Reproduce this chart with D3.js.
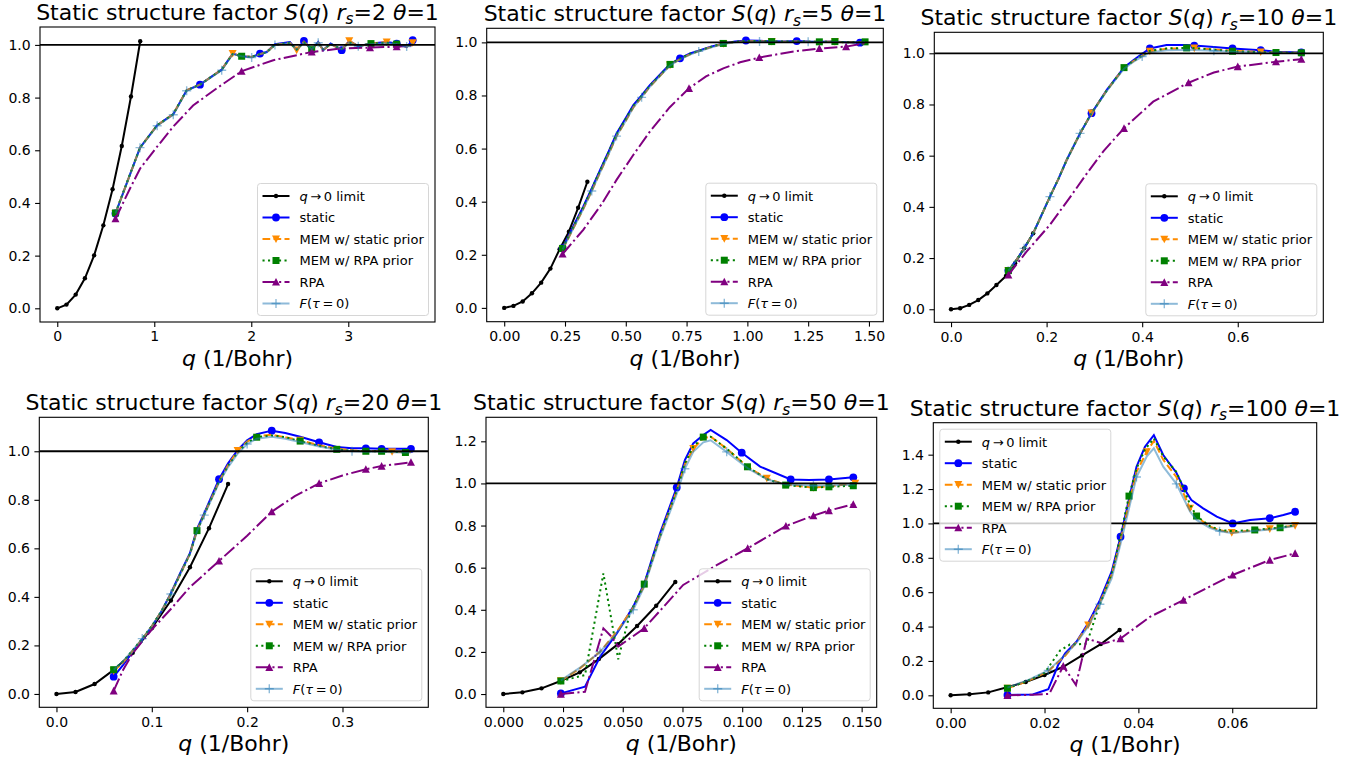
<!DOCTYPE html>
<html>
<head>
<meta charset="utf-8">
<script src="https://cdn.jsdelivr.net/npm/d3@7"></script>
<style>
body { margin: 0; background: #fff; }
svg { display: block; }
text { font-family: "DejaVu Sans", sans-serif; }
</style>
</head>
<body>
<svg width="1362" height="762"></svg>
<script>
// ---- data: [q, S(q)] ----

// r_s = 2
var rs2_limit = [[0,0],[0.095,0.014],[0.19,0.052],[0.285,0.114],[0.38,0.201],[0.475,0.315],[0.57,0.452],[0.665,0.616],[0.76,0.804],[0.855,1.014]];
var rs2_static = [[0.6,0.36],[0.853,0.61],[1.03,0.695],[1.196,0.737],[1.334,0.828],[1.471,0.849],[1.695,0.906],[1.808,0.967],[1.901,0.957],[2.004,0.954],[2.09,0.967],[2.159,0.973],[2.244,1.003],[2.399,1.011],[2.468,0.98],[2.543,1.015],[2.623,0.982],[2.69,1.011],[2.742,0.98],[2.818,1.005],[2.932,0.98],[3.01,1.015],[3.103,0.995],[3.234,1.005],[3.396,1.011],[3.499,1.005],[3.602,0.992],[3.664,1.018]];
var rs2_memS = [[0.6,0.36],[0.853,0.61],[1.03,0.695],[1.196,0.737],[1.334,0.828],[1.471,0.849],[1.695,0.906],[1.808,0.967],[1.901,0.957],[2.004,0.954],[2.09,0.965],[2.159,0.973],[2.244,1.0],[2.399,1.008],[2.468,0.98],[2.543,1.012],[2.623,0.982],[2.69,1.008],[2.742,0.98],[2.818,1.003],[2.932,0.982],[3.01,1.015],[3.103,0.995],[3.234,1.005],[3.396,1.011],[3.499,1.003],[3.602,0.993],[3.664,1.008]];
var rs2_memR = [[0.6,0.362],[0.853,0.61],[1.03,0.695],[1.196,0.737],[1.334,0.828],[1.471,0.849],[1.695,0.906],[1.808,0.965],[1.901,0.957],[2.004,0.954],[2.09,0.965],[2.159,0.972],[2.244,1.0],[2.399,1.008],[2.468,0.982],[2.543,1.01],[2.623,0.982],[2.69,1.008],[2.742,0.982],[2.818,1.003],[2.932,0.984],[3.01,1.01],[3.103,0.995],[3.234,1.005],[3.396,1.008],[3.499,1.003],[3.602,0.994],[3.664,1.005]];
var rs2_rpa = [[0.6,0.34],[0.75,0.455],[0.853,0.53],[1.0,0.6],[1.196,0.69],[1.4,0.77],[1.643,0.835],[1.9,0.9],[2.227,0.942],[2.623,0.973],[2.914,0.986],[3.224,0.99],[3.499,0.993],[3.664,0.998]];
var rs2_F = [[0.6,0.36],[0.853,0.61],[1.03,0.693],[1.196,0.735],[1.334,0.826],[1.471,0.849],[1.695,0.904],[1.808,0.965],[1.901,0.957],[2.004,0.952],[2.09,0.965],[2.159,0.972],[2.244,1.0],[2.399,1.008],[2.468,0.982],[2.543,1.01],[2.623,0.984],[2.69,1.008],[2.742,0.982],[2.818,1.003],[2.932,0.984],[3.01,1.01],[3.103,0.995],[3.234,1.003],[3.396,1.008],[3.499,1.003],[3.602,0.994],[3.664,1.005]];

// r_s = 5
var rs5_limit = [[0,0],[0.038,0.0075],[0.076,0.024],[0.114,0.055],[0.152,0.095],[0.19,0.148],[0.228,0.221],[0.266,0.287],[0.304,0.377],[0.342,0.475]];
var rs5_static = [[0.24,0.225],[0.28,0.30],[0.325,0.381],[0.36,0.45],[0.394,0.519],[0.43,0.59],[0.462,0.657],[0.5,0.715],[0.531,0.764],[0.565,0.80],[0.599,0.839],[0.64,0.878],[0.682,0.918],[0.723,0.94],[0.764,0.958],[0.80,0.969],[0.846,0.983],[0.901,0.996],[0.95,1.003],[0.994,1.007],[1.05,1.006],[1.10,1.004],[1.15,1.003],[1.203,1.005],[1.25,1.003],[1.296,1.002],[1.36,1.003],[1.41,1.0],[1.463,0.999],[1.484,1.002]];
var rs5_memS = [[0.24,0.22],[0.28,0.292],[0.325,0.372],[0.36,0.44],[0.394,0.51],[0.43,0.58],[0.462,0.647],[0.5,0.705],[0.531,0.755],[0.565,0.793],[0.599,0.833],[0.64,0.873],[0.682,0.914],[0.723,0.937],[0.764,0.955],[0.80,0.967],[0.846,0.981],[0.901,0.995],[0.95,1.001],[0.994,1.004],[1.05,1.004],[1.10,1.003],[1.15,1.002],[1.203,1.003],[1.25,1.002],[1.296,1.002],[1.36,1.002],[1.41,1.0],[1.463,1.0],[1.484,1.002]];
var rs5_memR = [[0.24,0.224],[0.28,0.298],[0.325,0.379],[0.36,0.448],[0.394,0.517],[0.43,0.588],[0.462,0.654],[0.5,0.712],[0.531,0.761],[0.565,0.798],[0.599,0.837],[0.64,0.876],[0.682,0.917],[0.723,0.939],[0.764,0.957],[0.80,0.968],[0.846,0.982],[0.901,0.996],[0.95,1.002],[0.994,1.005],[1.05,1.005],[1.10,1.003],[1.15,1.003],[1.203,1.004],[1.25,1.003],[1.296,1.002],[1.36,1.003],[1.41,1.0],[1.463,1.0],[1.484,1.002]];
var rs5_rpa = [[0.24,0.203],[0.325,0.294],[0.40,0.39],[0.462,0.482],[0.53,0.575],[0.599,0.664],[0.68,0.755],[0.76,0.827],[0.83,0.872],[0.901,0.902],[0.97,0.925],[1.049,0.943],[1.19,0.966],[1.296,0.977],[1.406,0.984],[1.484,0.997]];
var rs5_F = [[0.24,0.22],[0.28,0.292],[0.325,0.372],[0.36,0.44],[0.394,0.51],[0.43,0.58],[0.462,0.647],[0.5,0.705],[0.531,0.755],[0.565,0.793],[0.599,0.833],[0.64,0.873],[0.682,0.913],[0.723,0.936],[0.764,0.954],[0.80,0.966],[0.846,0.98],[0.901,0.994],[0.95,1.0],[0.994,1.003],[1.05,1.003],[1.10,1.002],[1.15,1.002],[1.203,1.002],[1.25,1.002],[1.296,1.001],[1.36,1.001],[1.41,1.0],[1.463,1.0],[1.484,1.001]];

// r_s = 10
var rs10_limit = [[0,0],[0.019,0.004],[0.038,0.017],[0.057,0.036],[0.076,0.062],[0.095,0.095],[0.115,0.13],[0.134,0.18],[0.153,0.238],[0.172,0.297]];
var rs10_static = [[0.12,0.151],[0.136,0.19],[0.153,0.238],[0.172,0.297],[0.19,0.37],[0.207,0.44],[0.225,0.51],[0.242,0.583],[0.27,0.687],[0.294,0.766],[0.326,0.857],[0.362,0.945],[0.382,0.974],[0.40,0.998],[0.416,1.019],[0.451,1.032],[0.493,1.032],[0.509,1.03],[0.55,1.025],[0.589,1.019],[0.648,1.012],[0.68,1.006],[0.733,1.003]];
var rs10_memS = [[0.12,0.151],[0.136,0.19],[0.153,0.238],[0.172,0.297],[0.19,0.37],[0.207,0.44],[0.225,0.51],[0.242,0.583],[0.27,0.687],[0.294,0.766],[0.326,0.855],[0.362,0.943],[0.382,0.97],[0.40,0.99],[0.416,1.008],[0.451,1.018],[0.493,1.02],[0.509,1.02],[0.55,1.015],[0.589,1.01],[0.648,1.005],[0.68,1.003],[0.733,1.002]];
var rs10_memR = [[0.12,0.151],[0.136,0.19],[0.153,0.238],[0.172,0.297],[0.19,0.37],[0.207,0.44],[0.225,0.51],[0.242,0.583],[0.27,0.687],[0.294,0.766],[0.326,0.855],[0.362,0.944],[0.382,0.971],[0.40,0.991],[0.416,1.009],[0.451,1.019],[0.493,1.021],[0.509,1.02],[0.55,1.014],[0.589,1.008],[0.648,1.004],[0.68,1.003],[0.733,1.002]];
var rs10_rpa = [[0.12,0.134],[0.158,0.225],[0.207,0.33],[0.25,0.44],[0.284,0.53],[0.32,0.62],[0.362,0.707],[0.423,0.811],[0.497,0.885],[0.55,0.925],[0.60,0.948],[0.68,0.967],[0.733,0.977]];
var rs10_F = [[0.12,0.151],[0.136,0.19],[0.153,0.238],[0.172,0.297],[0.19,0.37],[0.207,0.44],[0.225,0.51],[0.242,0.583],[0.27,0.687],[0.294,0.765],[0.326,0.853],[0.362,0.94],[0.382,0.967],[0.40,0.987],[0.416,1.003],[0.451,1.012],[0.493,1.014],[0.509,1.013],[0.55,1.01],[0.589,1.006],[0.648,1.003],[0.68,1.002],[0.733,1.001]];

// r_s = 20
var rs20_limit = [[0,0],[0.02,0.008],[0.04,0.041],[0.06,0.099],[0.08,0.170],[0.10,0.271],[0.12,0.385],[0.14,0.522],[0.16,0.683],[0.18,0.865]];
var rs20_static = [[0.06,0.071],[0.07,0.12],[0.08,0.174],[0.09,0.225],[0.1,0.277],[0.11,0.34],[0.12,0.415],[0.13,0.50],[0.14,0.58],[0.1474,0.68],[0.155,0.745],[0.1705,0.885],[0.18,0.95],[0.19,1.005],[0.2,1.045],[0.21,1.07],[0.2258,1.085],[0.24,1.075],[0.2556,1.06],[0.2755,1.037],[0.294,1.018],[0.31,1.012],[0.3245,1.012],[0.341,1.01],[0.352,1.01],[0.366,1.01],[0.3718,1.01]];
var rs20_memS = [[0.06,0.095],[0.07,0.13],[0.08,0.178],[0.09,0.226],[0.1,0.279],[0.11,0.34],[0.12,0.412],[0.13,0.495],[0.14,0.577],[0.1474,0.673],[0.155,0.74],[0.1705,0.875],[0.18,0.942],[0.19,1.003],[0.2,1.04],[0.21,1.062],[0.2258,1.068],[0.24,1.058],[0.2556,1.045],[0.2755,1.025],[0.294,1.01],[0.31,1.004],[0.3245,1.0],[0.341,1.0],[0.352,0.998],[0.366,0.997],[0.3718,0.997]];
var rs20_memR = [[0.06,0.10],[0.07,0.135],[0.08,0.18],[0.09,0.228],[0.1,0.28],[0.11,0.34],[0.12,0.412],[0.13,0.495],[0.14,0.577],[0.1474,0.673],[0.155,0.74],[0.1705,0.875],[0.18,0.94],[0.19,0.995],[0.2,1.035],[0.21,1.058],[0.2258,1.065],[0.24,1.058],[0.2556,1.042],[0.2755,1.022],[0.294,1.008],[0.31,1.002],[0.3245,1.0],[0.341,1.0],[0.352,0.998],[0.366,0.995],[0.3718,0.995]];
var rs20_rpa = [[0.06,0.013],[0.07,0.10],[0.08,0.168],[0.10,0.265],[0.12,0.35],[0.14,0.44],[0.1705,0.548],[0.2,0.652],[0.2258,0.751],[0.25,0.815],[0.2755,0.868],[0.30,0.90],[0.3245,0.926],[0.341,0.939],[0.3718,0.955]];
var rs20_F = [[0.06,0.10],[0.07,0.135],[0.08,0.18],[0.09,0.228],[0.1,0.28],[0.11,0.34],[0.12,0.412],[0.13,0.495],[0.14,0.577],[0.1474,0.67],[0.155,0.737],[0.1705,0.87],[0.18,0.935],[0.19,0.99],[0.2,1.03],[0.21,1.052],[0.2258,1.06],[0.24,1.052],[0.2556,1.038],[0.2755,1.02],[0.294,1.006],[0.31,1.0],[0.3245,0.998],[0.341,0.998],[0.352,0.996],[0.366,0.995],[0.3718,0.995]];

// r_s = 50
var rs50_limit = [[0,0],[0.008,0.008],[0.016,0.027],[0.024,0.062],[0.032,0.103],[0.040,0.166],[0.048,0.237],[0.056,0.323],[0.064,0.419],[0.072,0.532]];
var rs50_static = [[0.0241,0.003],[0.0342,0.035],[0.0405,0.177],[0.0475,0.288],[0.0544,0.415],[0.059,0.525],[0.0656,0.763],[0.0726,0.981],[0.076,1.111],[0.0795,1.19],[0.0837,1.23],[0.0868,1.254],[0.0935,1.206],[0.0998,1.146],[0.1075,1.08],[0.1203,1.019],[0.128,1.016],[0.1363,1.019],[0.1465,1.029]];
var rs50_memS = [[0.0241,0.062],[0.0321,0.122],[0.0405,0.201],[0.0475,0.296],[0.0544,0.41],[0.059,0.515],[0.0656,0.75],[0.0726,0.965],[0.076,1.09],[0.0795,1.165],[0.0837,1.215],[0.0868,1.222],[0.0935,1.165],[0.1026,1.076],[0.1103,1.024],[0.118,0.995],[0.1298,0.98],[0.1363,0.986],[0.1473,1.0]];
var rs50_memR = [[0.0241,0.062],[0.0342,0.09],[0.0419,0.573],[0.0481,0.165],[0.053,0.383],[0.059,0.522],[0.0656,0.75],[0.0726,0.965],[0.076,1.095],[0.0795,1.175],[0.0837,1.22],[0.0868,1.222],[0.0935,1.165],[0.1022,1.079],[0.1103,1.02],[0.1182,0.992],[0.1298,0.98],[0.1363,0.984],[0.1465,0.989]];
var rs50_rpa = [[0.0241,0.0],[0.0342,0.011],[0.0419,0.312],[0.0455,0.27],[0.0481,0.225],[0.059,0.312],[0.0753,0.518],[0.0893,0.612],[0.1023,0.692],[0.1183,0.798],[0.1298,0.847],[0.1363,0.871],[0.1465,0.901]];
var rs50_F = [[0.0241,0.065],[0.0321,0.125],[0.0405,0.2],[0.0475,0.29],[0.0544,0.40],[0.059,0.51],[0.0656,0.74],[0.0726,0.95],[0.076,1.07],[0.0795,1.15],[0.0837,1.195],[0.0868,1.205],[0.0935,1.15],[0.1026,1.07],[0.1103,1.02],[0.118,0.995],[0.1298,0.99],[0.1363,0.99],[0.1473,0.995]];

// r_s = 100
var rs100_limit = [[0,0],[0.004,0.006],[0.008,0.017],[0.012,0.047],[0.016,0.077],[0.020,0.118],[0.024,0.166],[0.028,0.232],[0.032,0.298],[0.036,0.38]];
var rs100_static = [[0.0121,0.002],[0.0175,0.005],[0.0208,0.035],[0.0229,0.176],[0.0244,0.244],[0.0268,0.312],[0.0293,0.419],[0.0318,0.554],[0.0343,0.719],[0.0362,0.923],[0.0382,1.165],[0.0396,1.33],[0.0414,1.446],[0.0433,1.514],[0.0453,1.398],[0.0481,1.295],[0.0497,1.204],[0.0513,1.136],[0.0538,1.088],[0.0567,1.039],[0.0601,1.0],[0.0638,1.02],[0.068,1.03],[0.0709,1.049],[0.0734,1.068]];
var rs100_memS = [[0.0121,0.04],[0.0166,0.085],[0.0208,0.14],[0.0244,0.23],[0.0268,0.31],[0.0293,0.409],[0.0318,0.54],[0.0343,0.70],[0.0362,0.90],[0.0382,1.14],[0.0396,1.30],[0.0418,1.417],[0.0433,1.48],[0.0453,1.37],[0.0481,1.27],[0.051,1.088],[0.0524,1.039],[0.0552,0.981],[0.0573,0.961],[0.0599,0.946],[0.0638,0.958],[0.068,0.968],[0.0734,0.987]];
var rs100_memR = [[0.0121,0.041],[0.016,0.08],[0.02,0.13],[0.0233,0.26],[0.0254,0.295],[0.029,0.30],[0.0311,0.477],[0.0346,0.729],[0.038,1.159],[0.0396,1.32],[0.0414,1.43],[0.0433,1.495],[0.0453,1.39],[0.0481,1.3],[0.0497,1.2],[0.051,1.11],[0.0524,1.043],[0.0552,0.985],[0.0573,0.962],[0.0601,0.955],[0.0648,0.962],[0.0702,0.975],[0.0734,0.99]];
var rs100_rpa = [[0.0121,0.0],[0.0175,0.003],[0.021,0.008],[0.024,0.17],[0.0267,0.06],[0.029,0.33],[0.0325,0.30],[0.0362,0.33],[0.0425,0.457],[0.0496,0.554],[0.055,0.63],[0.0601,0.70],[0.068,0.787],[0.0734,0.826]];
var rs100_F = [[0.0121,0.045],[0.0166,0.09],[0.0208,0.145],[0.0244,0.235],[0.0268,0.305],[0.0293,0.40],[0.0318,0.53],[0.0343,0.68],[0.0362,0.88],[0.0382,1.11],[0.0396,1.27],[0.0418,1.39],[0.0433,1.437],[0.0453,1.33],[0.0481,1.23],[0.051,1.07],[0.0524,1.02],[0.0552,0.975],[0.0573,0.955],[0.0599,0.945],[0.0638,0.955],[0.068,0.965],[0.0734,0.985]];

// indices of the points that carry a marker
var rs2_marks = {static:[0,5,10,15,20,25,27], memS:[0,7,14,21,24,27], memR:[0,8,16,23,25], rpa:[0,7,9,11,12], F:[1,2,3,4,6,9,12,17,22,26]};
var rs5_marks = {static:[0,13,19,23,28], memS:[0,12,17,21,26], memR:[0,12,17,21,25,26,29], rpa:[0,7,11,13,14], F:[3,6,9,15,20,24]};
var rs10_marks = {static:[0,9,14,17,19,20,22], memS:[0,9,14,17,20], memR:[0,11,16,19,21,22], rpa:[0,6,8,10,11,12], F:[2,5,8,13,18]};
var rs20_marks = {static:[0,11,16,19,22,23,26], memS:[0,13,18,24], memR:[0,9,15,18,20,22,23,25], rpa:[0,6,8,10,12,13,14], F:[3,6,10,14,21]};
var rs50_marks = {static:[0,7,13,15,17,18], memS:[0,9,14,16,18], memR:[0,5,10,13,15,16,17,18], rpa:[0,5,8,9,10,11,12], F:[2,4,8,12,16]};
var rs100_marks = {static:[0,9,16,20,22,24], memS:[0,5,11,15,19,21,22], memR:[0,8,16,20,21], rpa:[0,3,7,9,11,12,13], F:[2,6,10,14,18]};

var yTicks = [0, 0.2, 0.4, 0.6, 0.8, 1.0];

// ---- styling / layout ----
var series = [
    {key: "limit", color: "#000000", dash: null, marker: "dot", label: [["q", 1], ["\u2009\u2192\u20090 limit"]]},
    {key: "static", color: "#0000ff", dash: null, marker: "circle", label: [["static"]]},
    {key: "memS", color: "#ff8c00", dash: "7.7,3.3", marker: "vee", label: [["MEM w/ static prior"]]},
    {key: "memR", color: "#008000", dash: "2.1,3.4", marker: "square", label: [["MEM w/ RPA prior"]]},
    {key: "rpa", color: "#800080", dash: "13.3,3.3,2.1,3.3", marker: "tri", label: [["RPA"]]},
    {key: "F", color: "#1f77b4", dash: null, marker: "plus", opacity: 0.5, label: [["F", 1], ["("], ["\u03c4", 1], ["\u2009=\u20090)"]]}
];

var panels = [
    {rs: "2", box: [40, 27, 395, 295], xdom: [-0.178, 3.894], ydom: [-0.052, 1.068],
     xticks: [0, 1, 2, 3], xfmt: "d", yticks: yTicks, legend: "lr",
     data: {limit: rs2_limit, static: rs2_static, memS: rs2_memS, memR: rs2_memR, rpa: rs2_rpa, F: rs2_F}, marks: rs2_marks},
    {rs: "5", box: [486.7, 28.3, 396.6, 293.4], xdom: [-0.072, 1.559], ydom: [-0.052, 1.053],
     xticks: [0, 0.25, 0.5, 0.75, 1.0, 1.25, 1.5], xfmt: ".2f", yticks: yTicks, legend: "lr",
     data: {limit: rs5_limit, static: rs5_static, memS: rs5_memS, memR: rs5_memR, rpa: rs5_rpa, F: rs5_F}, marks: rs5_marks},
    {rs: "10", box: [934.3, 32.3, 389, 290], xdom: [-0.035, 0.779], ydom: [-0.051, 1.082],
     xticks: [0, 0.2, 0.4, 0.6], xfmt: ".1f", yticks: yTicks, legend: "lr",
     data: {limit: rs10_limit, static: rs10_static, memS: rs10_memS, memR: rs10_memR, rpa: rs10_rpa, F: rs10_F}, marks: rs10_marks},
    {rs: "20", box: [39.3, 417.3, 389, 290], xdom: [-0.018, 0.390], ydom: [-0.055, 1.140],
     xticks: [0, 0.1, 0.2, 0.3], xfmt: ".1f", yticks: yTicks, legend: "lr",
     data: {limit: rs20_limit, static: rs20_static, memS: rs20_memS, memR: rs20_memR, rpa: rs20_rpa, F: rs20_F}, marks: rs20_marks},
    {rs: "50", box: [486, 417.3, 390.7, 290], xdom: [-0.00724, 0.1563], ydom: [-0.063, 1.314],
     xticks: [0, 0.025, 0.05, 0.075, 0.1, 0.125, 0.15], xfmt: ".3f", yticks: [0, 0.2, 0.4, 0.6, 0.8, 1.0, 1.2], legend: "lr",
     data: {limit: rs50_limit, static: rs50_static, memS: rs50_memS, memR: rs50_memR, rpa: rs50_rpa, F: rs50_F}, marks: rs50_marks},
    {rs: "100", box: [933.3, 422.7, 383.4, 285.6], xdom: [-0.0037, 0.078], ydom: [-0.0756, 1.586],
     xticks: [0, 0.02, 0.04, 0.06], xfmt: ".2f", yticks: [0, 0.2, 0.4, 0.6, 0.8, 1.0, 1.2, 1.4], legend: "ul",
     data: {limit: rs100_limit, static: rs100_static, memS: rs100_memS, memR: rs100_memR, rpa: rs100_rpa, F: rs100_F}, marks: rs100_marks}
];

var svg = d3.select("svg");
var LW = 2;

// text with italic / subscript pieces, like mathtext
function rich(text, parts, size) {
    var shifted = 0;
    parts.forEach(function (p) {
        var t = text.append("tspan").text(p[0]);
        if (p[1]) t.attr("font-style", "italic");
        if (p[2]) {
            t.attr("font-size", size * 0.7).attr("dy", size * 0.2);
            shifted = size * 0.2;
        } else if (shifted) {
            t.attr("dy", -shifted);
            shifted = 0;
        }
    });
}

function marker(g, type, x, y, color, op) {
    var m;
    if (type == "dot") {
        m = g.append("circle").attr("cx", x).attr("cy", y).attr("r", 2.2).attr("fill", color);
    } else if (type == "circle") {
        m = g.append("circle").attr("cx", x).attr("cy", y).attr("r", 3.9).attr("fill", color);
    } else if (type == "vee") {
        m = g.append("path").attr("d", "M" + (x - 4) + "," + (y - 3.6) + "L" + (x + 4) + "," + (y - 3.6) + "L" + x + "," + (y + 4) + "Z").attr("fill", color);
    } else if (type == "tri") {
        m = g.append("path").attr("d", "M" + x + "," + (y - 4) + "L" + (x + 4) + "," + (y + 3.6) + "L" + (x - 4) + "," + (y + 3.6) + "Z").attr("fill", color);
    } else if (type == "square") {
        m = g.append("rect").attr("x", x - 3.5).attr("y", y - 3.5).attr("width", 7).attr("height", 7).attr("fill", color);
    } else if (type == "plus") {
        m = g.append("path").attr("d", "M" + (x - 4.5) + "," + y + "H" + (x + 4.5) + "M" + x + "," + (y - 4.5) + "V" + (y + 4.5))
            .attr("stroke", color).attr("stroke-width", 1.4).attr("fill", "none");
    }
    if (op) m.attr("opacity", op);
}

panels.forEach(function (p, pi) {
    var L = p.box[0], T = p.box[1], W = p.box[2], H = p.box[3];
    var x = d3.scaleLinear().domain(p.xdom).range([L, L + W]);
    var y = d3.scaleLinear().domain(p.ydom).range([T + H, T]);
    var g = svg.append("g");

    g.append("clipPath").attr("id", "clip" + pi)
        .append("rect").attr("x", L).attr("y", T).attr("width", W).attr("height", H);
    var plot = g.append("g").attr("clip-path", "url(#clip" + pi + ")");

    var line = d3.line().x(function (d) { return x(d[0]); }).y(function (d) { return y(d[1]); });

    series.forEach(function (s) {
        var pts = p.data[s.key];
        var sg = plot.append("g");
        sg.append("path").datum(pts).attr("d", line)
            .attr("fill", "none").attr("stroke", s.color).attr("stroke-width", LW)
            .attr("stroke-dasharray", s.dash).attr("opacity", s.opacity || null);
        var idx = s.key == "limit" ? d3.range(pts.length) : p.marks[s.key];
        idx.forEach(function (i) {
            marker(sg, s.marker, x(pts[i][0]), y(pts[i][1]), s.color, s.opacity);
        });
    });

    // S = 1 reference line
    plot.append("line").attr("x1", L).attr("x2", L + W).attr("y1", y(1)).attr("y2", y(1))
        .attr("stroke", "#000").attr("stroke-width", 1.8);

    // axes
    var xa = g.append("g").attr("transform", "translate(0," + (T + H) + ")")
        .call(d3.axisBottom(x).tickValues(p.xticks).tickFormat(d3.format(p.xfmt)).tickSize(4.9).tickPadding(4.4).tickSizeOuter(0));
    var ya = g.append("g").attr("transform", "translate(" + L + ",0)")
        .call(d3.axisLeft(y).tickValues(p.yticks).tickFormat(d3.format(".1f")).tickSize(4.9).tickPadding(4.4).tickSizeOuter(0));
    [xa, ya].forEach(function (a) {
        a.select(".domain").remove();
        a.selectAll("text").attr("font-size", 14).attr("fill", "#000").attr("font-family", "DejaVu Sans");
        a.selectAll("line").attr("stroke", "#000").attr("stroke-width", 1.1);
    });
    g.append("rect").attr("x", L).attr("y", T).attr("width", W).attr("height", H)
        .attr("fill", "none").attr("stroke", "#000").attr("stroke-width", 1.1);

    // title and x label
    var title = g.append("text").attr("x", L + W / 2).attr("y", T - 7)
        .attr("text-anchor", "middle").attr("font-size", 22).attr("fill", "#000");
    rich(title, [["Static structure factor "], ["S", 1], ["("], ["q", 1], [") "], ["r", 1], ["s", 1, 1],
        ["=" + p.rs + " "], ["\u03b8", 1], ["=1"]], 22);
    var xl = g.append("text").attr("x", L + W / 2).attr("y", T + H + 44)
        .attr("text-anchor", "middle").attr("font-size", 22).attr("fill", "#000");
    rich(xl, [["q", 1], [" (1/Bohr)"]], 22);

    // legend
    var lw = 171, lh = 132;
    var lx = p.legend == "lr" ? L + W - 6.5 - lw : L + 6.5;
    var ly = p.legend == "lr" ? T + H - 6.5 - lh : T + 6.5;
    var lg = g.append("g");
    lg.append("rect").attr("x", lx).attr("y", ly).attr("width", lw).attr("height", lh).attr("rx", 3)
        .attr("fill", "#fff").attr("fill-opacity", 0.8).attr("stroke", "#d6d6d6").attr("stroke-width", 1);
    series.forEach(function (s, i) {
        var cy = ly + 12.5 + i * 21.5;
        lg.append("line").attr("x1", lx + 5).attr("x2", lx + 32).attr("y1", cy).attr("y2", cy)
            .attr("stroke", s.color).attr("stroke-width", LW).attr("stroke-dasharray", s.dash)
            .attr("opacity", s.opacity || null);
        marker(lg, s.marker, lx + 18.5, cy, s.color, s.opacity);
        var t = lg.append("text").attr("x", lx + 42).attr("y", cy + 4.8).attr("font-size", 13).attr("fill", "#000");
        rich(t, s.label, 13);
    });
});
</script>
</body>
</html>
